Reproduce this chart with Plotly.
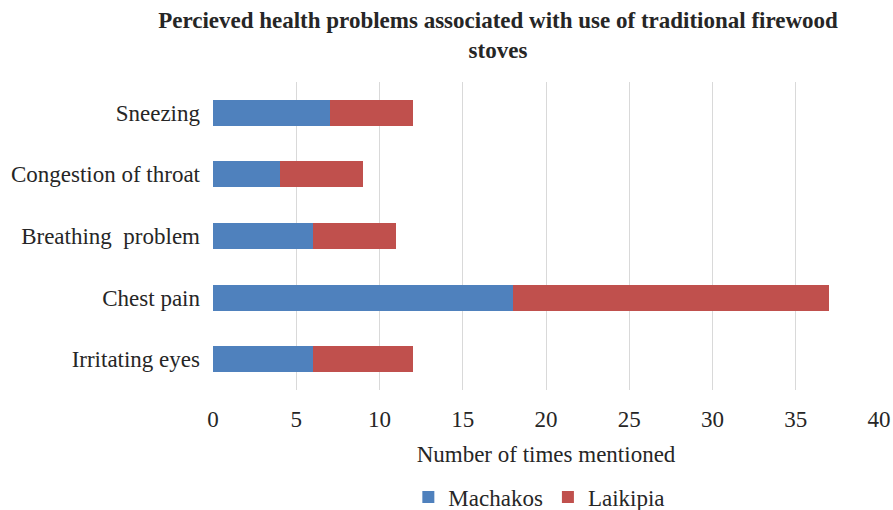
import plotly.graph_objects as go

categories = ["Irritating eyes", "Chest pain", "Breathing  problem", "Congestion of throat", "Sneezing"]
machakos = [6, 18, 6, 4, 7]
laikipia = [6, 19, 5, 5, 5]
x_ticks = [0, 5, 10, 15, 20, 25, 30, 35, 40]

FONT = "Liberation Serif"
FS = 23

fig = go.Figure()
fig.add_trace(go.Bar(y=categories, x=machakos, name="Machakos", orientation="h",
                     marker=dict(color="#4f81bd", line=dict(width=0))))
fig.add_trace(go.Bar(y=categories, x=laikipia, name="Laikipia", orientation="h",
                     marker=dict(color="#c0504d", line=dict(width=0))))

fig.update_layout(
    width=893, height=510,
    barmode="stack", bargap=0.58,
    paper_bgcolor="white", plot_bgcolor="white",
    margin=dict(l=213, r=14, t=82, b=120),
    font=dict(family=FONT, size=FS, color="#262626"),
    title=dict(text="<b>Percieved health problems associated with use of traditional firewood<br>stoves</b>",
               x=498 / 893, xanchor="center", y=1 - 28 / 510, yanchor="middle",
               font=dict(family=FONT, size=23, color="#262626")),
    xaxis=dict(range=[0, 40], tickvals=x_ticks, showgrid=True, gridcolor="#d9d9d9",
               gridwidth=1, zeroline=False, showline=False, ticks="",
               automargin=False, ticklabelstandoff=13,
               tickfont=dict(family=FONT, size=FS),
               title=dict(text="Number of times mentioned", standoff=14,
                          font=dict(family=FONT, size=FS))),
    yaxis=dict(showgrid=False, zeroline=False, showline=False, ticks="",
               automargin=False, ticklabelstandoff=12,
               tickfont=dict(family=FONT, size=FS)),
    legend=dict(orientation="h", x=0.49, xanchor="center",
                yref="container", y=1 - 497 / 510, yanchor="middle",
                font=dict(family=FONT, size=FS), traceorder="normal", itemwidth=30),
    showlegend=True,
)

fig.write_html("out.html", config={"displayModeBar": False},
               post_script="document.body.style.margin='0';document.body.style.padding='0';")
